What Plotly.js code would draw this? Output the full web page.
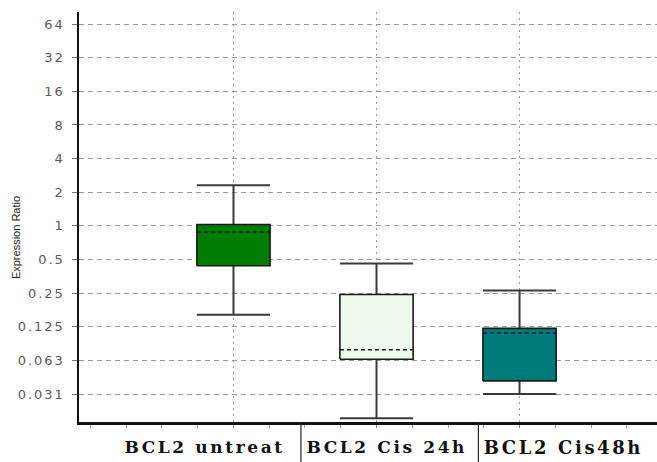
<!DOCTYPE html>
<html>
<head>
<meta charset="utf-8">
<script src="https://cdn.plot.ly/plotly-3.0.1.min.js"></script>
<style>
  html, body { margin: 0; padding: 0; background: #fff; }
  #chart { width: 657px; height: 462px; }
  .ytick text { letter-spacing: 2px; }
  .annotation-text.cat { letter-spacing: 2.6px; }
</style>
</head>
<body>
<div id="chart"></div>
<script>
// ---- data ----
const categories = ['BCL2 untreat', 'BCL2 Cis 24h', 'BCL2 Cis48h'];
const whiskerLow  = [0.16, 0.019, 0.0313];
const boxQ1       = [0.44, 0.064, 0.041];
const boxMedian   = [0.88, 0.078, 0.110];
const boxQ3       = [1.03, 0.243, 0.121];
const whiskerHigh = [2.31, 0.46, 0.264];
const boxColors   = ['#007d00', '#effaee', '#007b7b'];
const yTickVals   = [0.03125, 0.0625, 0.125, 0.25, 0.5, 1, 2, 4, 8, 16, 32, 64];
const yTickText   = ['0.031', '0.063', '0.125', '0.25', '0.5', '1', '2', '4', '8', '16', '32', '64'];
const yTitle      = 'Expression Ratio';

// ---- style ----
const halfW = 0.256;
const labelX = [-0.2, 1.07, 2.31];
const labelSize = [17, 17, 18];
const sepX = [0.384, 0.691];

const traces = [];
categories.forEach((c, i) => {
  // whiskers
  traces.push({
    type: 'scatter', mode: 'lines', hoverinfo: 'skip', showlegend: false,
    x: [i, i, null, i - halfW, i + halfW, null, i, i, null, i - halfW, i + halfW],
    y: [boxQ3[i], whiskerHigh[i], null, whiskerHigh[i], whiskerHigh[i], null,
        boxQ1[i], whiskerLow[i], null, whiskerLow[i], whiskerLow[i]],
    line: { color: '#3a3a3a', width: 2 }
  });
});
categories.forEach((c, i) => {
  // box
  traces.push({
    type: 'scatter', mode: 'lines', name: c, showlegend: false,
    x: [i - halfW, i + halfW, i + halfW, i - halfW, i - halfW],
    y: [boxQ1[i], boxQ1[i], boxQ3[i], boxQ3[i], boxQ1[i]],
    fill: 'toself', fillcolor: boxColors[i],
    line: { color: '#1a1a1a', width: 1.6 }
  });
  // median (dashed)
  traces.push({
    type: 'scatter', mode: 'lines', hoverinfo: 'skip', showlegend: false,
    x: [i - halfW, i + halfW], y: [boxMedian[i], boxMedian[i]],
    line: { color: '#1a1a1a', width: 1.5, dash: '4px,3px' }
  });
});

const annotations = categories.map((c, i) => ({
  text: c, x: labelX[i], xref: 'x', y: -0.062, yref: 'paper',
  showarrow: false, xanchor: 'center', yanchor: 'middle',
  font: { family: 'DejaVu Serif', size: labelSize[i], color: '#111', weight: 'bold' }
}));
annotations.push({
  text: yTitle, x: -0.109, xref: 'paper', y: 0.451, yref: 'paper',
  textangle: -90, showarrow: false, xanchor: 'center', yanchor: 'middle',
  font: { family: 'Liberation Sans', size: 11, color: '#222' }
});

const shapes = sepX.map(xv => ({
  type: 'line', xref: 'paper', yref: 'paper', x0: xv, x1: xv, y0: 0, y1: -0.1,
  line: { color: '#222', width: 1.2 }
}));

const layout = {
  width: 657, height: 462,
  margin: { l: 79, r: 0, t: 12, b: 40 },
  paper_bgcolor: '#fff', plot_bgcolor: '#fff',
  showlegend: false,
  xaxis: {
    range: [-1.08, 2.961],
    tickvals: [0, 1, 2], showticklabels: false,
    ticks: 'outside', ticklen: 3, tickcolor: '#888',
    minor: { dtick: 0.25, tick0: 0, ticks: 'outside', ticklen: 3, tickcolor: '#999', showgrid: false },
    showgrid: true, gridcolor: '#9a9a9a', griddash: '2px,4px', gridwidth: 1.5,
    showline: true, linecolor: '#111', linewidth: 2.5,
    zeroline: false, fixedrange: true
  },
  yaxis: {
    type: 'log',
    range: [-1.755, 1.914],
    tickvals: yTickVals, ticktext: yTickText,
    ticks: 'outside', ticklen: 5, tickcolor: '#777',
    ticklabelstandoff: 4,
    tickfont: { family: 'DejaVu Sans', size: 13, color: '#5a5a5a' },
    showgrid: true, gridcolor: '#999', griddash: '5px,4px', gridwidth: 1,
    showline: true, linecolor: '#111', linewidth: 2.5,
    zeroline: false, fixedrange: true
  },
  annotations: annotations,
  shapes: shapes
};

Plotly.newPlot('chart', traces, layout, { displayModeBar: false, staticPlot: true }).then(() => {
  document.querySelectorAll('.annotation-text').forEach(t => {
    if (categories.includes(t.textContent)) t.classList.add('cat');
  });
});
</script>
</body>
</html>
